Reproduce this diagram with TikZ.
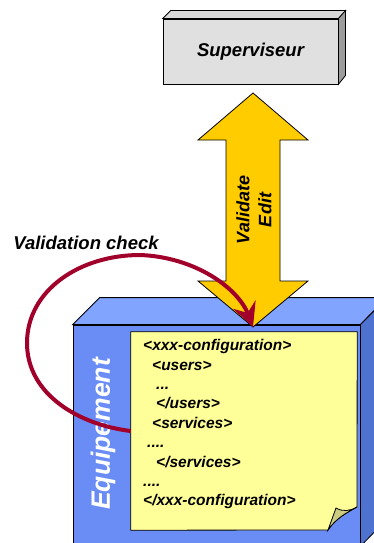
\documentclass[tikz,border=0pt]{standalone}
\usepackage{fontspec}
\setmainfont{Liberation Sans}
\usetikzlibrary{arrows.meta,calc}
\definecolor{boxgray}{HTML}{E0E0E0}
\definecolor{boxgraytop}{HTML}{DADADA}
\definecolor{boxgrayside}{HTML}{9C9C9C}
\definecolor{eqtop}{HTML}{80A4FF}
\definecolor{eqfront}{HTML}{6A8CF5}
\definecolor{eqside}{HTML}{4E72CF}
\definecolor{notey}{HTML}{FFFF99}
\definecolor{foldc}{HTML}{CCCC80}
\definecolor{arrowy}{HTML}{FFCC00}
\definecolor{checkred}{HTML}{A0002A}
\begin{document}
\begin{tikzpicture}[x=1pt,y=-1pt,
  outline/.style={draw=black,line width=0.8pt},
  supbox/.style={outline,fill=boxgray,minimum width=175pt,minimum height=65pt,inner sep=0pt,
    font=\fontsize{18.5}{22}\selectfont\bfseries\itshape},
  eqbox/.style={outline,fill=eqfront,minimum width=287pt,minimum height=221pt,inner sep=0pt},
  bigtxt/.style={font=\fontsize{18.5}{22}\selectfont\bfseries\itshape,inner sep=0pt},
  codeline/.style={anchor=base west,inner sep=0pt,font=\fontsize{15.5}{19}\selectfont\bfseries\itshape},
  checkline/.style={draw=checkred,line width=4pt}
]
\useasboundingbox (0,0) rectangle (374,543);
\clip (0,0) rectangle (374,543);

% Superviseur box
\node[supbox] (sup) at (250.5,51.5) {Superviseur};
\draw[outline,fill=boxgraytop] (sup.north west) -- ++(8,-8) -- ++(175,0) -- (sup.north east) -- cycle;
\draw[outline,fill=boxgrayside] (sup.north east) -- ++(7,-8) -- ++(0,65) -- (sup.south east) -- cycle;

% Equipement box
\node[eqbox] (eq) at (216.5,435.5) {};
\draw[outline,fill=eqtop] (eq.north west) -- ++(27,-27) -- ++(287,0) -- (eq.north east) -- cycle;
\draw[outline,fill=eqside] (eq.north east) -- ++(27,-27) -- ++(0,221) -- (eq.south east) -- cycle;
\node[font=\fontsize{26.5}{30}\selectfont\bfseries\itshape,text=white,rotate=90,inner sep=0pt] (eqlabel) at (103,434) {Equipement};

% Double arrow
\coordinate (atop) at (253,93);
\coordinate (abot) at (253,327);
\draw[outline,fill=arrowy] (atop) -- (308,140) -- (280,140) -- (280,281) -- (308,281) -- (abot)
  -- (198,281) -- (226,281) -- (226,140) -- (198,140) -- cycle;
\node[bigtxt,font=\fontsize{18}{22}\selectfont\bfseries\itshape,rotate=90,align=center] (va) at (254,210) {Validate\\Edit};

% Note
\node[minimum width=226pt,minimum height=198pt,inner sep=0pt] (note) at (244,431) {};
\coordinate (fA) at (357,507);
\coordinate (fB) at (328,530);
\coordinate (fC) at (336,508);
\draw[outline,fill=notey] (note.north west) -- (note.north east) -- (fA)
  .. controls (348,512) and (336,518) .. (fB) -- (note.south west) -- cycle;
\draw[outline,fill=foldc] (fB) -- (fC) .. controls (343,512) and (350,511) .. (fA)
  .. controls (348,512) and (336,518) .. (fB) -- cycle;

\node[codeline] (l1) at (143,350.7) {<xxx-configuration>};
\node[codeline] (l2) at (152,370.1) {<users>};
\node[codeline] (l3) at (156,389.5) {...};
\node[codeline] (l4) at (156,408.9) {</users>};
\node[codeline] (l5) at (152,428.3) {<services>};
\node[codeline] (l6) at (147,447.7) {....};
\node[codeline] (l7) at (156,467.1) {</services>};
\node[codeline] (l8) at (143,486.5) {....};
\node[codeline] (l9) at (143,505.9) {</xxx-configuration>};

% Validation check
\node[bigtxt] (vc) at (86,243) {Validation check};
\draw[checkline,-{Stealth[length=24pt,width=24pt,inset=9pt]}] (note.west)
  .. controls (80,425) and (27,395) .. (27,343)
  .. controls (27,290) and (80,255) .. (140,255)
  .. controls (195,257) and (238,288) .. (abot);
\end{tikzpicture}
\end{document}
